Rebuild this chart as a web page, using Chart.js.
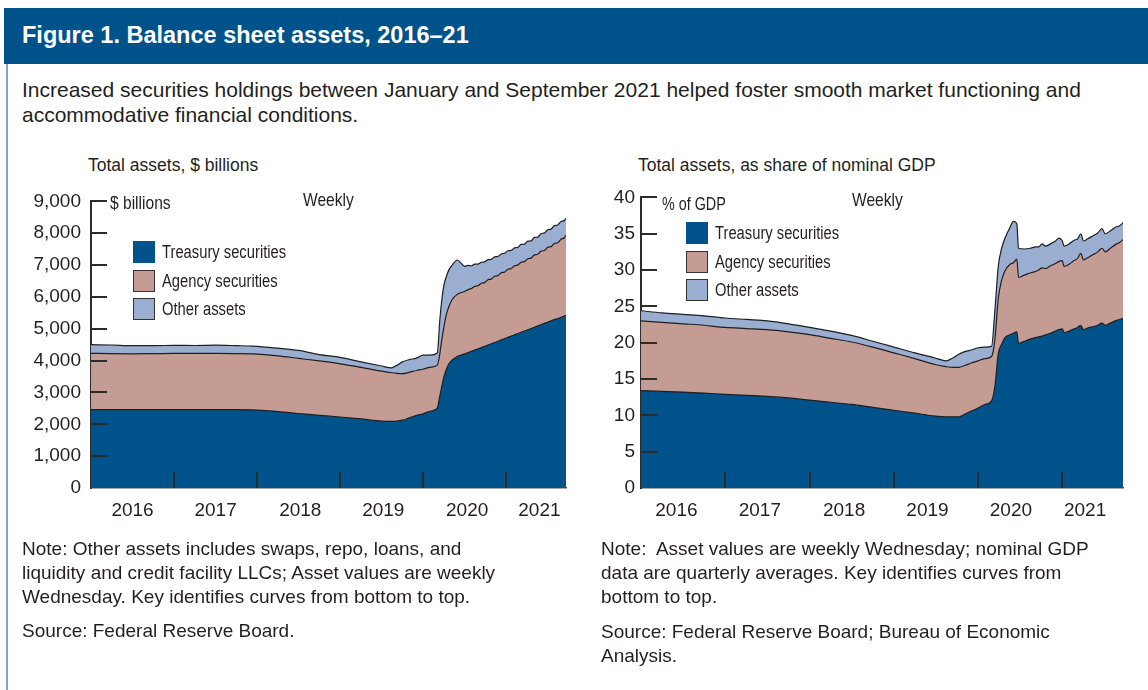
<!DOCTYPE html>
<html>
<head>
<meta charset="utf-8">
<script src="https://cdn.jsdelivr.net/npm/chart.js@4.4.1/dist/chart.umd.min.js"></script>
<style>
  html, body { margin: 0; padding: 0; background: #fff; }
  body { width: 1148px; height: 690px; position: relative; overflow: hidden;
         font-family: "Liberation Sans", Arial, sans-serif; color: #231f20; }
  .band { position: absolute; left: 4px; top: 8px; width: 1144px; height: 56px; background: #00538a; }
  .band h1 { margin: 0; position: absolute; left: 18px; top: 13px; font-size: 23.5px; line-height: 28px;
             font-weight: bold; color: #fff; }
  .frame { position: absolute; left: 6px; top: 64px; width: 2px; height: 626px; background: #86a5cc; }
  .txt { position: absolute; font-size: 19px; line-height: 24px; white-space: nowrap; }
  .ctitle { position: absolute; font-size: 17.5px; line-height: 20px; white-space: nowrap; }
  .narrow { position: absolute; font-size: 18px; line-height: 22px; white-space: nowrap;
            transform: scaleX(0.82); transform-origin: 0 0; }
  .box { position: absolute; width: 22px; height: 22px; box-sizing: border-box; }
  canvas { position: absolute; }
</style>
</head>
<body>
<div class="band"><h1>Figure 1. Balance sheet assets, 2016–21</h1></div>
<div class="frame"></div>
<div class="txt" style="left:22px; top:77px; font-size:21px; line-height:25px;">Increased securities holdings between January and September 2021 helped foster smooth market functioning and<br>accommodative financial conditions.</div>

<div class="ctitle" style="left:88px; top:155px;">Total assets, $ billions</div>
<div class="ctitle" style="left:638px; top:155px;">Total assets, as share of nominal GDP</div>

<canvas id="leftChart" width="590" height="360" style="left:0; top:180px;"></canvas>
<canvas id="rightChart" width="558" height="360" style="left:590px; top:180px;"></canvas>

<div class="narrow" style="left:110px; top:192px; font-size:19px;">$ billions</div>
<div class="narrow" style="left:303px; top:189px; font-size:19px;">Weekly</div>
<div id="leftLegend"></div>

<div class="narrow" style="left:662px; top:193px; font-size:17.5px;">% of GDP</div>
<div class="narrow" style="left:852px; top:189px; font-size:19px;">Weekly</div>
<div id="rightLegend"></div>

<div class="txt" style="left:22px; top:537px;">Note: Other assets includes swaps, repo, loans, and<br>liquidity and credit facility LLCs; Asset values are weekly<br>Wednesday. Key identifies curves from bottom to top.</div>
<div class="txt" style="left:22px; top:619px;">Source: Federal Reserve Board.</div>

<div class="txt" style="left:601px; top:537px;">Note:&nbsp; Asset values are weekly Wednesday; nominal GDP<br>data are quarterly averages. Key identifies curves from<br>bottom to top.</div>
<div class="txt" style="left:601px; top:620px;">Source: Federal Reserve Board; Bureau of Economic<br>Analysis.</div>

<script>
// series names and colours
const seriesNames = ['Treasury securities', 'Agency securities', 'Other assets'];
const seriesColors = ['#00538a', '#c49c94', '#99aed0'];

// left panel: $ billions, weekly (sampled)
const leftDates = [
  2016.00, 2016.25, 2016.50, 2016.75, 2017.00, 2017.25, 2017.50, 2017.75, 2017.95,
  2018.25, 2018.50, 2018.75, 2019.00, 2019.25, 2019.50, 2019.62, 2019.68, 2019.75,
  2019.83, 2019.92, 2020.00, 2020.08, 2020.17, 2020.20, 2020.22, 2020.25, 2020.28,
  2020.31, 2020.35, 2020.41, 2020.45, 2020.50, 2020.54, 2020.58, 2020.62, 2020.66,
  2020.70, 2020.74, 2020.78, 2020.82, 2020.86, 2020.90, 2020.94, 2020.98, 2021.02,
  2021.06, 2021.10, 2021.14, 2021.18, 2021.22, 2021.26, 2021.30, 2021.34, 2021.38,
  2021.42, 2021.46, 2021.50, 2021.54, 2021.58, 2021.62, 2021.66, 2021.70, 2021.72
];
const leftTreasury = [
  2460, 2460, 2460, 2460, 2460, 2460, 2460, 2460, 2455,
  2400, 2340, 2280, 2230, 2170, 2100, 2090, 2100, 2130,
  2200, 2280, 2330, 2410, 2510, 2880, 3140, 3490, 3730,
  3900, 4020, 4130, 4170, 4210, 4250, 4290, 4330, 4370,
  4410, 4450, 4490, 4530, 4570, 4610, 4650, 4690, 4730,
  4770, 4810, 4850, 4890, 4930, 4970, 5010, 5050, 5090,
  5130, 5170, 5210, 5250, 5290, 5320, 5360, 5400, 5420
];
const leftAgency = [
  1770, 1760, 1755, 1760, 1765, 1765, 1765, 1760, 1755,
  1750, 1730, 1710, 1670, 1620, 1570, 1530, 1500, 1460,
  1430, 1410, 1400, 1380, 1350, 1320, 1440, 1570, 1720,
  1800, 1900, 1950, 1960, 1960, 1980, 1970, 2000, 1980,
  2020, 2000, 2050, 2030, 2080, 2060, 2110, 2090, 2140,
  2120, 2170, 2150, 2200, 2180, 2230, 2210, 2270, 2250,
  2310, 2290, 2350, 2330, 2390, 2380, 2450, 2460, 2520
];
const leftOther = [
  270, 270, 255, 250, 255, 250, 260, 250, 245,
  240, 250, 200, 200, 170, 160, 150, 250, 370,
  400, 390, 440, 380, 380, 1050, 1220, 1310, 1200,
  1150, 1080, 1080, 950, 790, 760, 720, 700, 680,
  660, 650, 630, 620, 610, 600, 590, 590, 580,
  570, 560, 560, 560, 550, 550, 540, 550, 540,
  550, 550, 550, 550, 560, 560, 560, 540, 530
];

// right panel: % of nominal GDP
const rightDates = [
  2016.00, 2016.25, 2016.50, 2016.75, 2017.00, 2017.25, 2017.50, 2017.75, 2018.00,
  2018.25, 2018.50, 2018.75, 2019.00, 2019.25, 2019.49, 2019.62, 2019.70, 2019.77,
  2019.85, 2019.92, 2020.00, 2020.08, 2020.16, 2020.20, 2020.24, 2020.28, 2020.32,
  2020.38, 2020.42, 2020.46, 2020.48, 2020.55, 2020.62, 2020.68, 2020.72, 2020.76,
  2020.80, 2020.86, 2020.92, 2020.96, 2021.00, 2021.02, 2021.08, 2021.14, 2021.18,
  2021.22, 2021.25, 2021.30, 2021.36, 2021.42, 2021.47, 2021.51, 2021.57, 2021.63,
  2021.68, 2021.73
];
const rightTreasury = [
  13.4, 13.3, 13.2, 13.05, 12.9, 12.75, 12.6, 12.4, 12.1,
  11.8, 11.5, 11.1, 10.7, 10.3, 9.9, 9.8, 9.8, 9.8,
  10.2, 10.6, 11.0, 11.5, 12.0, 14.0, 18.5, 19.8, 20.7,
  21.1, 21.3, 21.5, 19.9, 20.2, 20.5, 20.7, 20.8, 20.9,
  21.1, 21.3, 21.6, 21.8, 21.9, 21.4, 21.6, 21.9, 22.1,
  22.4, 21.8, 22.0, 22.2, 22.4, 22.7, 22.4, 22.7, 23.0,
  23.2, 23.4
];
const rightAgency = [
  9.6, 9.5, 9.4, 9.35, 9.2, 9.2, 9.2, 9.1, 9.0,
  8.8, 8.6, 8.3, 7.9, 7.5, 7.1, 6.9, 6.8, 6.8,
  6.7, 6.6, 6.5, 6.3, 6.1, 6.5, 7.6, 8.8, 9.2,
  9.7, 9.7, 10.0, 9.1, 9.1, 9.1, 9.1, 9.2, 9.4,
  9.1, 9.3, 9.3, 9.4, 9.4, 9.1, 9.2, 9.4, 9.5,
  9.9, 9.6, 9.7, 9.9, 10.1, 10.3, 10.1, 10.3, 10.5,
  10.6, 10.9
];
const rightOther = [
  1.4, 1.3, 1.3, 1.3, 1.3, 1.25, 1.2, 1.1, 1.0,
  1.0, 0.9, 0.8, 0.8, 0.8, 0.9, 0.8, 1.3, 1.8,
  1.9, 1.8, 1.8, 1.6, 1.4, 4.0, 4.4, 4.4, 4.5,
  5.1, 5.7, 4.9, 4.0, 3.6, 3.4, 3.4, 3.2, 3.3,
  3.1, 3.0, 3.1, 3.2, 2.7, 2.8, 2.8, 2.8, 2.7,
  2.7, 2.6, 2.6, 2.6, 2.6, 2.7, 2.5, 2.4, 2.4,
  2.3, 2.3
];

// axis ticks
const yearBreaks = [2017, 2018, 2019, 2020, 2021];
const leftYearLabelAt = [2016.5, 2017.5, 2018.52, 2019.52, 2020.53, 2021.4];
const rightYearLabelAt = [2016.42, 2017.41, 2018.41, 2019.4, 2020.39, 2021.27];

function makeSets(dates, ...series) {
  return series.map((vals, i) => ({
    label: seriesNames[i],
    data: dates.map((d, j) => ({ x: d, y: vals[j] })),
    backgroundColor: seriesColors[i],
    borderColor: '#1e1e1e',
    borderWidth: 1.2,
    fill: i === 0 ? 'origin' : '-1',
    pointRadius: 0,
    cubicInterpolationMode: 'monotone'
  }));
}

// tick marks drawn inward from the axes
const innerTicks = {
  id: 'innerTicks',
  afterDatasetsDraw(chart) {
    const { ctx, chartArea: a, scales: { x, y } } = chart;
    ctx.save();
    ctx.strokeStyle = '#2b2b2b';
    ctx.lineWidth = 2;
    y.ticks.forEach(t => {
      if (t.value === 0) return;
      const py = Math.round(y.getPixelForValue(t.value));
      ctx.beginPath();
      ctx.moveTo(a.left, py);
      ctx.lineTo(a.left + 16, py);
      ctx.stroke();
    });
    yearBreaks.forEach(v => {
      const px = Math.round(x.getPixelForValue(v));
      ctx.beginPath();
      ctx.moveTo(px, a.bottom);
      ctx.lineTo(px, a.bottom - 16);
      ctx.stroke();
    });
    ctx.restore();
  }
};

function makeChart(id, sets, yMax, yStep, yWidth, yPad, rightPad, labelAt, fmt) {
  return new Chart(document.getElementById(id), {
    type: 'line',
    data: { datasets: sets },
    options: {
      responsive: false,
      animation: false,
      layout: { padding: { top: 15, right: rightPad, left: 0, bottom: 0 }, autoPadding: false },
      plugins: { legend: { display: false }, tooltip: { enabled: false } },
      scales: {
        x: {
          type: 'linear', min: 2016, max: 2021.72,
          grid: { display: false, drawTicks: false },
          border: { display: true, color: '#555', width: 1.5 },
          ticks: { color: '#231f20', font: { family: 'Liberation Sans', size: 19 }, padding: 11,
                   maxRotation: 0, autoSkip: false, callback: v => String(Math.floor(v)) },
          afterBuildTicks: s => { s.ticks = labelAt.map(v => ({ value: v })); },
          afterFit: s => { s.height = 52; }
        },
        y: {
          stacked: true, min: 0, max: yMax,
          grid: { display: false, drawTicks: false },
          border: { display: true, color: '#2b2b2b', width: 2 },
          ticks: { stepSize: yStep, color: '#231f20', font: { family: 'Liberation Sans', size: 19 },
                   padding: yPad, callback: fmt },
          afterFit: s => { s.width = yWidth; }
        }
      }
    },
    plugins: [innerTicks]
  });
}

makeChart('leftChart', makeSets(leftDates, leftTreasury, leftAgency, leftOther),
  9000, 1000, 91, 10, 24, leftYearLabelAt, v => v.toLocaleString('en-US'));
makeChart('rightChart', makeSets(rightDates, rightTreasury, rightAgency, rightOther),
  40, 5, 51, 6, 25, rightYearLabelAt, v => String(v));

// legends (HTML key, same order as the reference)
function buildLegend(el, boxLeft, top0) {
  seriesNames.forEach((name, i) => {
    const top = top0 + i * 28.5;
    const b = document.createElement('div');
    b.className = 'box';
    b.style.left = boxLeft + 'px';
    b.style.top = top + 'px';
    b.style.background = seriesColors[i];
    if (i > 0) b.style.border = '1.5px solid #333';
    el.appendChild(b);
    const t = document.createElement('div');
    t.className = 'narrow';
    t.style.left = (boxLeft + 29) + 'px';
    t.style.top = top + 'px';
    t.textContent = name;
    el.appendChild(t);
  });
}
buildLegend(document.getElementById('leftLegend'), 133, 241);
buildLegend(document.getElementById('rightLegend'), 686, 222);
</script>
</body>
</html>
